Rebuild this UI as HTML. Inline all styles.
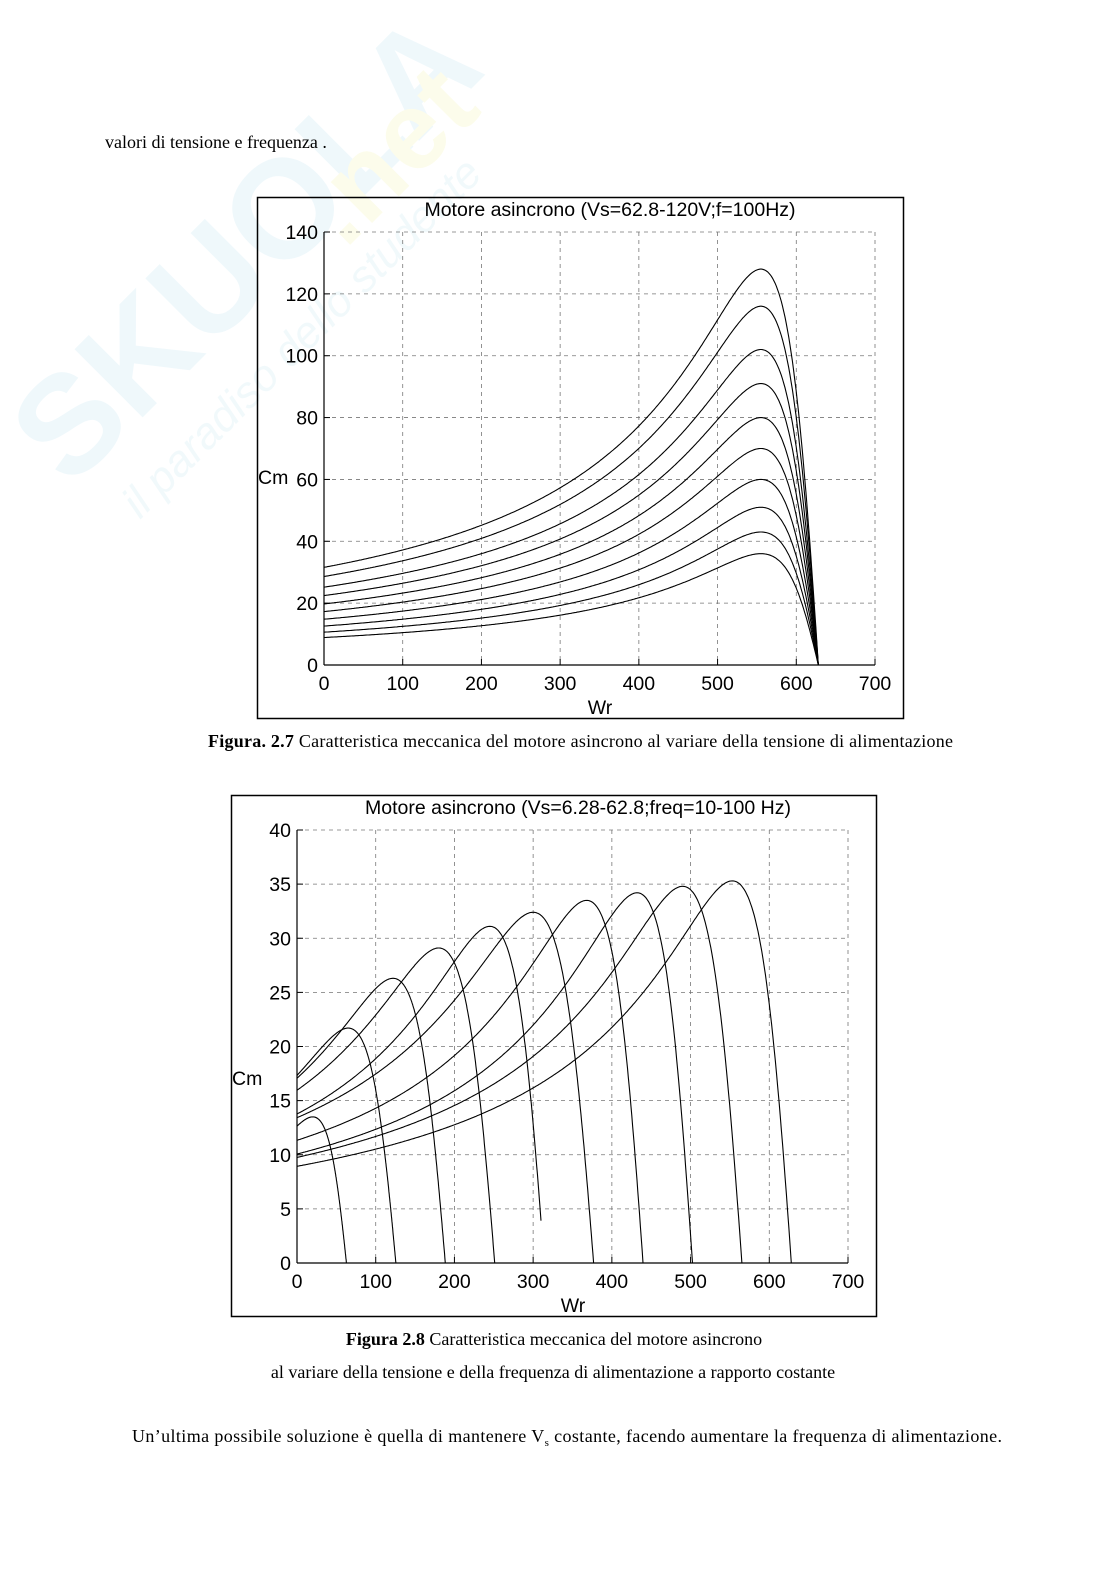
<!DOCTYPE html>
<html><head><meta charset="utf-8"><style>
html,body{margin:0;padding:0;background:#fff;}
svg{display:block}
.s{font-family:"Liberation Serif",serif;font-size:18px;fill:#000}
.a{font-family:"Liberation Sans",sans-serif;font-size:19.5px;fill:#000}
</style></head><body>
<svg id="svg" width="1116" height="1579" viewBox="0 0 1116 1579" xmlns="http://www.w3.org/2000/svg">
<rect width="1116" height="1579" fill="#fff"/>
<g opacity="0.35">
<text x="0" y="0" transform="translate(70,490) rotate(-45)" font-family="Liberation Sans,sans-serif" font-weight="bold" font-size="140" fill="#d2ecf5">SKUOLA</text>
<text x="0" y="0" transform="translate(345,250) rotate(-45)" font-family="Liberation Sans,sans-serif" font-weight="bold" font-size="110" fill="#f8f8c8">.net</text>
<text x="0" y="0" transform="translate(140,520) rotate(-45)" font-family="Liberation Sans,sans-serif" font-style="italic" font-size="44" fill="#d8eef5">il paradiso dello studente</text>
</g>
<text class="s" x="105" y="148">valori di tensione e frequenza .</text>

<rect x="257.5" y="197.5" width="646" height="521" fill="none" stroke="#000" stroke-width="1.5"/>
<rect x="231.5" y="795.5" width="645" height="521" fill="none" stroke="#000" stroke-width="1.5"/>
<g id="c1"></g><g id="c2"></g>

<text class="a" x="610" y="216" text-anchor="middle">Motore asincrono (Vs=62.8-120V;f=100Hz)</text>
<text class="a" x="600" y="714" text-anchor="middle">Wr</text>
<text class="a" x="258" y="484">Cm</text>
<text class="a" x="578" y="814" text-anchor="middle">Motore asincrono (Vs=6.28-62.8;freq=10-100 Hz)</text>
<text class="a" x="573" y="1312" text-anchor="middle">Wr</text>
<text class="a" x="232" y="1085">Cm</text>

<text class="s" x="208" y="747" textLength="745"><tspan font-weight="bold">Figura. 2.7</tspan> Caratteristica meccanica del motore asincrono al variare della tensione di alimentazione</text>
<text class="s" x="554" y="1345" text-anchor="middle"><tspan font-weight="bold">Figura 2.8</tspan> Caratteristica meccanica del motore asincrono</text>
<text class="s" x="553" y="1378" text-anchor="middle">al variare della tensione e della frequenza di alimentazione a rapporto costante</text>
<text class="s" x="132" y="1442" textLength="870">Un’ultima possibile soluzione è quella di mantenere V<tspan font-size="11" dy="4">s</tspan><tspan dy="-4"> costante, facendo aumentare la frequenza di alimentazione.</tspan></text>
</svg>
<script>
var NS="http://www.w3.org/2000/svg";
function el(p,t,a,txt){var e=document.createElementNS(NS,t);for(var k in a)e.setAttribute(k,a[k]);if(txt!=null)e.textContent=txt;p.appendChild(e);return e;}
function chart(g,x0,x1,y0,y1,ymax,ystep,labX,labY,curves){
 var sx=(x1-x0)/700, sy=(y1-y0)/ymax;
 function X(w){return x0+w*sx} function Y(t){return y1-t*sy}
 for(var w=100;w<=700;w+=100){el(g,'line',{x1:X(w),x2:X(w),y1:y0,y2:y1,stroke:'#777','stroke-width':0.8,'stroke-dasharray':'4,4'});}
 for(var t=ystep;t<=ymax;t+=ystep){el(g,'line',{x1:x0,x2:x1,y1:Y(t),y2:Y(t),stroke:'#777','stroke-width':0.8,'stroke-dasharray':'4,4'});}
 el(g,'line',{x1:x0,x2:x0,y1:y0,y2:y1,stroke:'#000','stroke-width':1.2});
 el(g,'line',{x1:x0,x2:x1,y1:y1,y2:y1,stroke:'#000','stroke-width':1.2});
 for(var w=0;w<=700;w+=100){el(g,'line',{x1:X(w),x2:X(w),y1:y1,y2:y1-6,stroke:'#000'});el(g,'text',{x:X(w),y:labY,'text-anchor':'middle','class':'a'},w);}
 for(var t=0;t<=ymax;t+=ystep){el(g,'line',{x1:x0,x2:x0+6,y1:Y(t),y2:Y(t),stroke:'#000'});el(g,'text',{x:labX,y:Y(t)+7,'text-anchor':'end','class':'a'},t);}
 curves.forEach(function(c){var ws=c[0],wp=c[1],Tm=c[2],end=c[3]||ws;var dm=ws-wp,d="";
  for(var i=0;i<=400;i++){var w=end*i/400;var s=ws-w;var T=s<=0?0:2*Tm*(1+0.1)/(s/dm+dm/s+0.2);d+=(i?'L':'M')+X(w).toFixed(1)+','+Y(T).toFixed(1);}
  el(g,'path',{d:d,fill:'none',stroke:'#000','stroke-width':1.1});});
}
var c1=[];[128,116,102,91,80,70,60,51,43,36].forEach(function(p){c1.push([628,555,p]);});
chart(document.getElementById('c1'),324,875,232,665,140,20,318,690,c1);
el(document.getElementById('c1'),'line',{x1:816,x2:875,y1:665,y2:665,stroke:'#000'});
var c2=[[62.8,20,13.5],[125.6,65,21.7],[188.4,122,26.3],[251.2,180,29.1],[314,245,31.1,310],[376.8,300,32.4],[439.6,368,33.5],[502.4,432,34.2],[565.2,490,34.8],[628,553,35.3]];
chart(document.getElementById('c2'),297,848,830,1263,40,5,291,1288,c2);
</script>
</body></html>
